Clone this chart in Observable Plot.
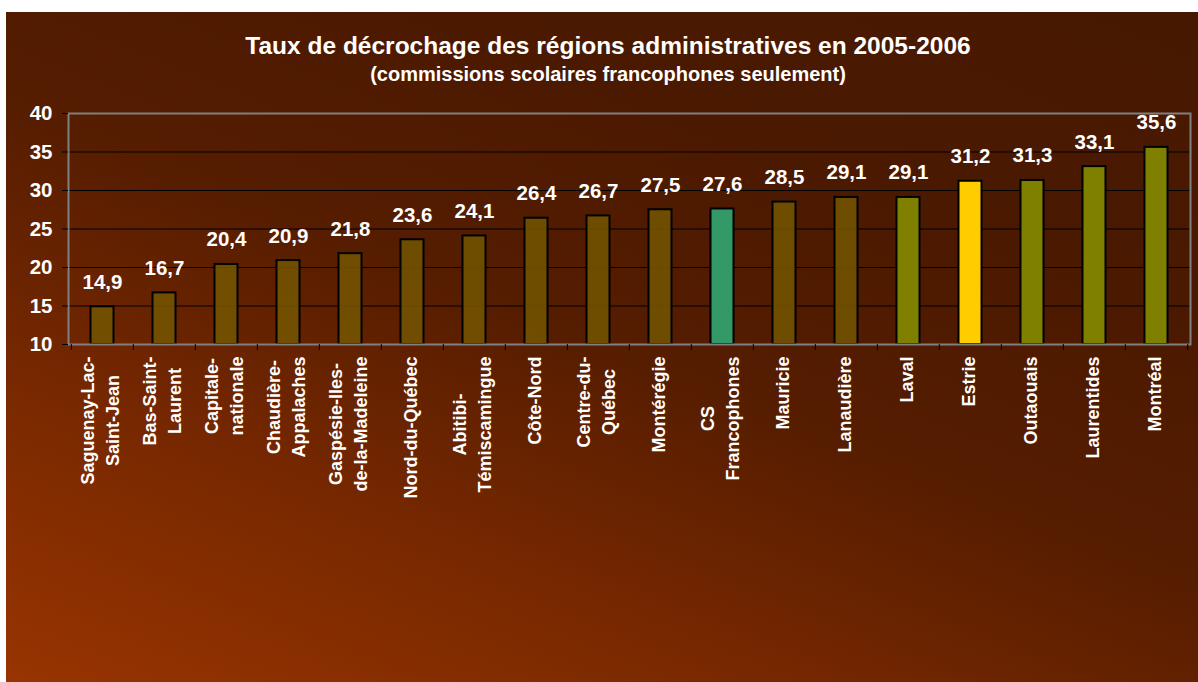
<!DOCTYPE html>
<html><head><meta charset="utf-8">
<script src="https://cdn.jsdelivr.net/npm/d3@7"></script>
<script src="https://cdn.jsdelivr.net/npm/@observablehq/plot@0.6"></script>
<style>
html,body{margin:0;padding:0;background:#fff;}
#chart{position:absolute;left:6px;top:12px;width:1192px;height:670px;overflow:hidden;
background:linear-gradient(22deg,#983400 0%,#7a2900 25%,#561d00 50%,#4a1900 75%,#471800 100%);
font-family:"Liberation Sans",Arial,sans-serif;font-weight:bold;color:#fff;}
#title{position:absolute;left:12px;right:0;top:22px;text-align:center;font-size:24.5px;line-height:1;white-space:nowrap;}
#subtitle{position:absolute;left:12px;right:0;top:52px;text-align:center;font-size:20px;line-height:1;white-space:nowrap;}
#plot{position:absolute;left:0;top:80px;}
</style></head><body>
<div id="chart">
  <div id="title">Taux de décrochage des régions administratives en 2005-2006</div>
  <div id="subtitle">(commissions scolaires francophones seulement)</div>
  <div id="plot"></div>
</div>
<script>
const categories = [
  "Saguenay-Lac-\nSaint-Jean", "Bas-Saint-\nLaurent", "Capitale-\nnationale", "Chaudière-\nAppalaches",
  "Gaspésie-Iles-\nde-la-Madeleine", "Nord-du-Québec", "Abitibi-\nTémiscamingue", "Côte-Nord",
  "Centre-du-\nQuébec", "Montérégie", "CS\nFrancophones", "Mauricie", "Lanaudière", "Laval",
  "Estrie", "Outaouais", "Laurentides", "Montréal"
];
const values = [14.9, 16.7, 20.4, 20.9, 21.8, 23.6, 24.1, 26.4, 26.7, 27.5, 27.6, 28.5, 29.1, 29.1, 31.2, 31.3, 33.1, 35.6];
const groups = ["A","A","A","A","A","A","A","A","A","A","CS","A","A","B","Estrie","B","B","B"];
const yTicks = [10, 15, 20, 25, 30, 35, 40];
const gridValues = [15, 20, 25, 30, 35];

const data = categories.map((c, i) => ({name: c, value: values[i], group: groups[i]}));

const W = 1192, H = 590, mL = 62, mR = 8, mT = 21, mB = 338;
const step = (W - mL - mR) / categories.length;
const fmt = v => d3.format(".1f")(v).replace(".", ",");
const font = "'Liberation Sans', Arial, sans-serif";

const canvas = document.createElement("canvas");
const ctx = canvas.getContext("2d");
ctx.font = `bold 18px ${font}`;
const maxLineWidth = s => d3.max(s.split("\n"), l => ctx.measureText(l).width);

const colorScale = {domain: ["A", "CS", "B", "Estrie"], range: ["#735400", "#339966", "#808000", "#ffcc00"]};

const labelMarks = categories.map(c => Plot.text([c], {
  x: d => d, text: d => d, frameAnchor: "bottom", rotate: -90,
  textAnchor: "middle", lineAnchor: "middle", lineHeight: 1.39,
  dx: -4, dy: 12 + maxLineWidth(c) / 2,
  fill: "#fff", fontSize: 18, fontWeight: "bold"
}));

const chart = Plot.plot({
  width: W, height: H,
  marginLeft: mL, marginRight: mR, marginTop: mT, marginBottom: mB,
  style: {background: "transparent", fontFamily: font, overflow: "visible"},
  x: {type: "band", domain: categories, padding: 0, axis: null},
  y: {domain: [10, 40], axis: null},
  color: colorScale,
  marks: [
    Plot.gridY(gridValues, {stroke: "#000", strokeOpacity: 1, strokeWidth: 1}),
    Plot.barY(data.filter(d => d.group === "A"), {x: "name", y1: 10, y2: "value", fill: "group", fillOpacity: 0.88,
      stroke: "#000", strokeWidth: 2, insetLeft: 19.5, insetRight: 19.5}),
    Plot.barY(data.filter(d => d.group !== "A"), {x: "name", y1: 10, y2: "value", fill: "group",
      stroke: "#000", strokeWidth: 2, insetLeft: 19.5, insetRight: 19.5}),
    Plot.frame({stroke: "#808080", strokeWidth: 2}),
    Plot.axisY({ticks: yTicks, tickSize: 6, tickPadding: 10, stroke: "#000", fill: "#fff",
      fontSize: 20.5, fontWeight: "bold", label: null, tickFormat: d => d}),
    Plot.ruleX(categories, {x: d => d, dx: -step / 2, y1: 10, y2: 10, insetBottom: -6, stroke: "#000"}),
    Plot.ruleX(categories.slice(-1), {x: d => d, dx: step / 2, y1: 10, y2: 10, insetBottom: -6, stroke: "#000"}),
    Plot.text(data, {x: "name", y: "value", text: d => fmt(d.value), dy: -18, lineAnchor: "bottom",
      fill: "#fff", fontSize: 20.5, fontWeight: "bold"}),
    ...labelMarks
  ]
});
document.getElementById("plot").appendChild(chart);
</script>
</body></html>
